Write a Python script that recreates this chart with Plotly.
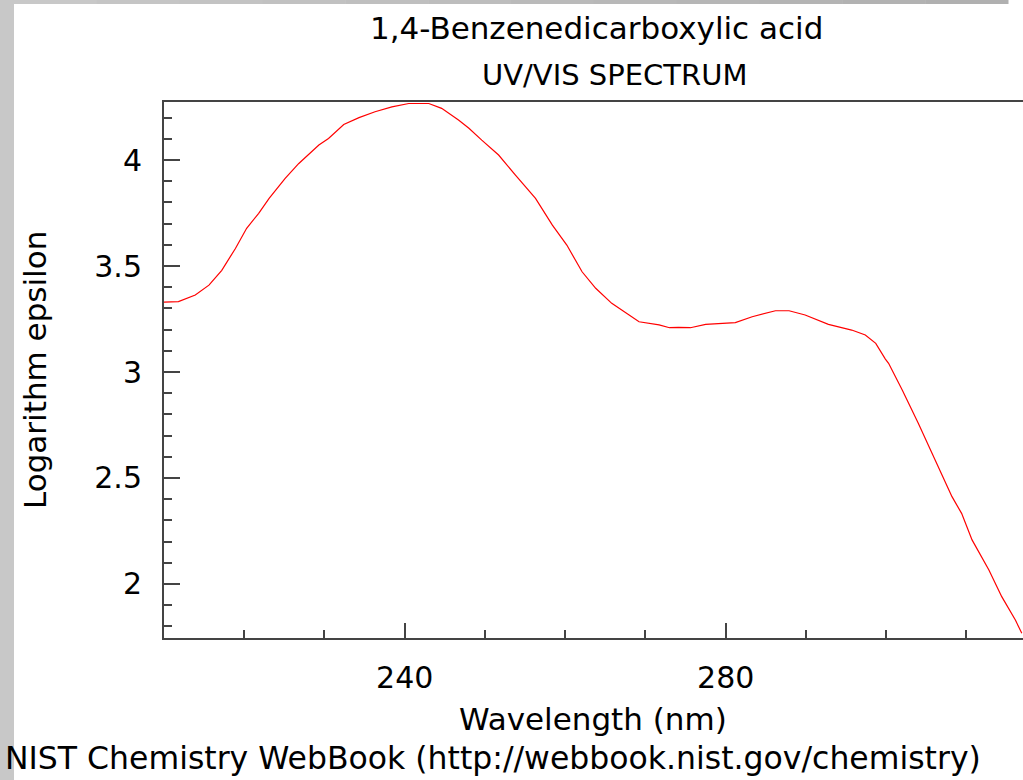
import plotly.graph_objects as go

wavelength = [209.8, 211.8, 213.9, 215.6, 217.2, 218.9, 220.3, 221.8, 223.1, 225.1,
              226.8, 229.3, 230.5, 232.4, 234.3, 236.3, 238.4, 240.5, 243.0, 244.6,
              246.7, 248.0, 249.6, 251.7, 253.8, 256.3, 258.4, 260.2, 262.1, 263.8,
              265.8, 266.7, 269.2, 271.7, 273.0, 274.1, 275.6, 277.5, 281.2, 283.3,
              286.2, 287.9, 289.9, 292.8, 295.7, 297.4, 298.7, 299.9, 300.3, 302.0,
              304.0, 306.1, 308.2, 309.4, 310.7, 312.8, 314.4, 316.1, 316.9]
log_eps = [3.329, 3.332, 3.363, 3.410, 3.480, 3.583, 3.678, 3.749, 3.819, 3.914,
           3.984, 4.071, 4.102, 4.168, 4.200, 4.228, 4.251, 4.267, 4.267, 4.244,
           4.189, 4.150, 4.094, 4.024, 3.929, 3.819, 3.693, 3.599, 3.473, 3.395,
           3.324, 3.300, 3.237, 3.222, 3.209, 3.211, 3.209, 3.225, 3.233, 3.261,
           3.289, 3.289, 3.269, 3.225, 3.198, 3.175, 3.135, 3.061, 3.041, 2.915,
           2.758, 2.585, 2.412, 2.333, 2.208, 2.066, 1.940, 1.830, 1.767]

title1 = "1,4-Benzenedicarboxylic acid"
title2 = "UV/VIS SPECTRUM"
x_title = "Wavelength (nm)"
y_title = "Logarithm epsilon"
footer = "NIST Chemistry WebBook (http://webbook.nist.gov/chemistry)"

W, H = 1023, 780
ML, MR, MT, MB = 164, 0, 102, 142
PW, PH = W - ML - MR, H - MT - MB


def px(x):
    return (x - ML) / PW


def py(y):
    return (H - MB - y) / PH


FONT = "DejaVu Sans"

fig = go.Figure()
fig.add_trace(go.Scatter(x=wavelength, y=log_eps, mode="lines",
                         line=dict(color="#ff0000", width=1.2), showlegend=False,
                         cliponaxis=True))

shapes = []
# left gray strip
shapes.append(dict(type="rect", xref="paper", yref="paper", x0=px(0), x1=px(14),
                   y0=py(H), y1=py(0), fillcolor="#c8c8c8", line=dict(width=0), layer="below"))
# top gray band with slight gradient
n = 12
for i in range(n):
    xa = 14 + (1008 - 14) * i / n
    xb = 14 + (1008 - 14) * (i + 1) / n + 0.5
    g = int(200 - 24 * i / (n - 1))
    shapes.append(dict(type="rect", xref="paper", yref="paper", x0=px(xa), x1=px(xb),
                       y0=py(4), y1=py(0), fillcolor=f"rgb({g},{g},{g})",
                       line=dict(width=0), layer="above"))

annotations = [
    dict(text=title1, x=px(596), y=py(28), xref="paper", yref="paper", showarrow=False,
         xanchor="center", yanchor="middle", font=dict(family=FONT, size=31, color="#000")),
    dict(text=title2, x=px(614), y=py(75), xref="paper", yref="paper", showarrow=False,
         xanchor="center", yanchor="middle", font=dict(family=FONT, size=29, color="#000")),
    dict(text=x_title, x=px(593), y=py(719), xref="paper", yref="paper", showarrow=False,
         xanchor="center", yanchor="middle", font=dict(family=FONT, size=31, color="#000")),
    dict(text=y_title, x=px(35), y=py(370), xref="paper", yref="paper", showarrow=False,
         textangle=-90, xanchor="center", yanchor="middle",
         font=dict(family=FONT, size=31, color="#000")),
    dict(text=footer, x=px(493), y=py(758), xref="paper", yref="paper", showarrow=False,
         xanchor="center", yanchor="middle", font=dict(family=FONT, size=31.5, color="#000")),
]

fig.update_layout(
    width=W, height=H, autosize=False,
    margin=dict(l=ML, r=MR, t=MT, b=MB, pad=0),
    paper_bgcolor="white", plot_bgcolor="white",
    shapes=shapes, annotations=annotations,
    font=dict(family=FONT, size=30, color="#000"),
    xaxis=dict(range=[210.0, 317.05], showgrid=False, zeroline=False,
               showline=True, linecolor="#444", linewidth=2, mirror=True,
               ticks="inside", ticklen=15, tickwidth=2, tickcolor="#444",
               tick0=200, dtick=40, ticklabelstandoff=12,
               tickfont=dict(family=FONT, size=30, color="#000"),
               minor=dict(ticks="inside", ticklen=8, tickwidth=1.5, tickcolor="#444",
                          dtick=10, tick0=200, showgrid=False)),
    yaxis=dict(range=[1.745, 4.274], showgrid=False, zeroline=False,
               showline=True, linecolor="#444", linewidth=2,
               ticks="inside", ticklen=16, tickwidth=2, tickcolor="#444",
               tick0=2, dtick=0.5, ticklabelstandoff=14,
               tickvals=[2, 2.5, 3, 3.5, 4], ticktext=["2", "2.5", "3", "3.5", "4"],
               tickfont=dict(family=FONT, size=30, color="#000"),
               minor=dict(ticks="inside", ticklen=8, tickwidth=1.5, tickcolor="#444",
                          dtick=0.1, tick0=2, showgrid=False)),
)

fig.write_html("out.html")
